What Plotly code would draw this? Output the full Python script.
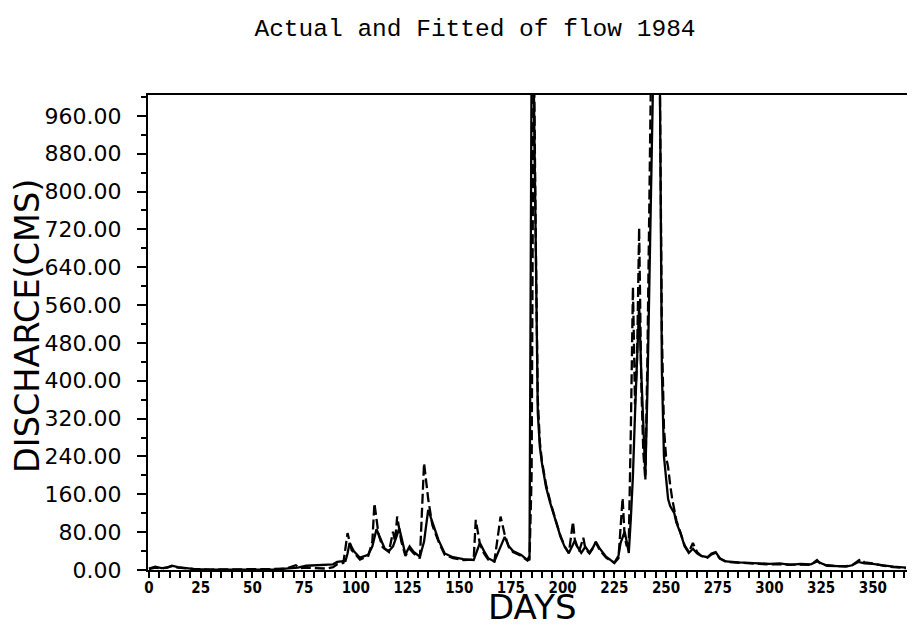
import plotly.graph_objects as go

title_text = "Actual and Fitted of flow 1984"
x_title = "DAYS"
y_title = "DISCHARCE(CMS)"

actual_days = [0, 3, 6, 9, 11, 14, 18, 22, 30, 40, 50, 60, 66, 72, 76, 80, 86, 89, 91, 95,
               96, 97, 99, 102, 106, 108, 110, 112, 114, 116, 118, 120, 121, 122, 124, 126, 128,
               131, 133, 135, 137, 140, 143, 147, 152, 157, 159, 160, 162, 164, 167, 170, 172,
               174, 176, 180, 183, 184, 185, 186, 187, 188, 189, 190, 192, 194, 197, 199, 201,
               203, 204, 206, 207, 209, 211, 213, 215, 216, 218, 221, 225, 227, 228, 230, 231,
               232, 233, 234, 235, 236, 237, 238, 239, 240, 241, 242, 243, 244, 245, 246, 247,
               248, 249, 250, 251, 252, 254, 255, 257, 259, 261, 263, 265, 267, 270, 272, 274,
               276, 279, 285, 290, 295, 300, 305, 310, 315, 320, 323, 325, 328, 333, 337, 340,
               343, 346, 350, 355, 360, 366]
actual_flow = [3, 7, 4, 5, 9, 6, 4, 2, 1, 1, 2, 1, 3, 5, 9, 10, 10, 12, 17, 19,
               35, 57, 40, 26, 32, 50, 86, 65, 45, 40, 50, 75, 88, 70, 33, 50, 38,
               28, 60, 127, 100, 63, 35, 27, 23, 21, 45, 57, 40, 25, 18, 50, 70,
               50, 40, 32, 21, 30, 1080, 1050, 613, 332, 260, 226, 175, 142, 99, 70, 49,
               36, 45, 63, 50, 36, 49, 36, 50, 60, 45, 28, 15, 30, 57, 81, 60,
               36, 110, 200, 330, 450, 560, 420, 300, 200, 380, 600, 880, 1100, 1200, 1150, 1050,
               420, 240, 190, 150, 135, 120, 100, 78, 50, 36, 45, 35, 30, 27, 35, 38,
               25, 18, 16, 15, 14, 13, 14, 11, 13, 12, 18, 14, 9, 8, 7, 10,
               17, 14, 13, 10, 7, 5]

fitted_days = [0, 3, 6, 9, 11, 14, 18, 22, 30, 40, 50, 60, 66, 70, 71, 73, 76, 80, 86, 89,
               91, 94, 96, 98, 102, 106, 108, 109, 111, 113, 116, 118, 119, 120, 122, 124, 126,
               128, 131, 133, 135, 137, 140, 143, 147, 152, 157, 158, 160, 162, 164, 167, 170,
               172, 174, 176, 180, 183, 184, 185, 186, 187, 188, 189, 190, 192, 194, 197, 199,
               201, 203, 205, 206, 208, 210, 211, 213, 215, 216, 218, 221, 225, 227, 229, 230,
               231, 232, 233, 234, 235, 236, 237, 238, 239, 240, 241, 242, 243, 244, 245, 246,
               247, 248, 249, 250, 251, 252, 253, 255, 257, 259, 261, 263, 265, 267, 270, 272,
               274, 276, 279, 285, 290, 295, 300, 305, 310, 315, 320, 323, 325, 328, 333, 337,
               340, 344, 346, 350, 355, 360, 366]
fitted_flow = [2, 5, 3, 6, 8, 5, 3, 2, 1, 1, 2, 2, 3, 8, 10, 4, 5, 4, 3, 6,
               12, 15, 78, 42, 22, 30, 60, 141, 75, 48, 38, 81, 60, 113, 60, 30, 45,
               35, 25, 226, 150, 95, 60, 32, 25, 21, 22, 106, 55, 35, 22, 18, 113,
               75, 48, 38, 30, 20, 22, 200, 1150, 700, 360, 270, 230, 180, 145, 100, 72,
               50, 35, 102, 60, 40, 68, 45, 35, 48, 58, 42, 26, 15, 25, 152, 70,
               50, 60, 300, 598, 350, 450, 723, 400, 250, 190, 450, 825, 1150, 1350, 1300, 1150,
               1050, 500, 300, 240, 218, 180, 150, 105, 80, 52, 38, 57, 38, 30, 26, 33,
               36, 24, 17, 15, 14, 13, 12, 12, 12, 11, 11, 21, 12, 10, 8, 8,
               10, 23, 16, 14, 9, 6, 4]

x_tick_vals = [0, 25, 50, 75, 100, 125, 150, 175, 200, 225, 250, 275, 300, 325, 350]
y_tick_vals = [0, 80, 160, 240, 320, 400, 480, 560, 640, 720, 800, 880, 960]
y_tick_text = [f"{v:.2f}" for v in y_tick_vals]

fig = go.Figure()
fig.add_trace(go.Scatter(x=fitted_days, y=fitted_flow, mode="lines", name="Fitted",
                         line=dict(color="black", width=2.3, dash="10px,4px")))
fig.add_trace(go.Scatter(x=actual_days, y=actual_flow, mode="lines", name="Actual",
                         line=dict(color="black", width=2.3)))

# the page body has an 8px margin, so the figure is laid out with that offset in mind
fig.update_layout(
    width=915, height=627,
    margin=dict(l=140, r=9, t=87, b=65),
    paper_bgcolor="white", plot_bgcolor="white",
    showlegend=False,
    title=dict(text=title_text, x=0.5104, xref="container", xanchor="center",
               y=1 - 19 / 627, yref="container", yanchor="middle",
               font=dict(family="Liberation Mono", size=24.5, color="black")),
)
fig.update_xaxes(
    range=[-0.48, 369.9], showgrid=False, zeroline=False,
    showline=True, linecolor="black", linewidth=2, mirror=True,
    ticks="outside", ticklen=6, tickwidth=1.5, tickcolor="black",
    tickvals=x_tick_vals, ticktext=[str(v) for v in x_tick_vals],
    tickfont=dict(family="DejaVu Sans Condensed", size=15, color="black", weight="bold"),
    ticklabelstandoff=-3,
    minor=dict(dtick=5, tick0=0, ticks="outside", ticklen=6, tickwidth=1.5, tickcolor="black"),
)
fig.update_yaxes(
    range=[0, 1004], showgrid=False, zeroline=False,
    showline=True, linecolor="black", linewidth=2,
    ticks="outside", ticklen=9, tickwidth=1.5, tickcolor="black",
    tickvals=y_tick_vals, ticktext=y_tick_text,
    tickfont=dict(family="DejaVu Sans", size=22, color="black"),
    ticklabelstandoff=11,
    minor=dict(dtick=40, tick0=0, ticks="outside", ticklen=5, tickwidth=1.5, tickcolor="black"),
)
fig.add_annotation(text=y_title, textangle=-90, xref="paper", yref="paper",
                   x=(27 - 148) / 766, y=(570 - 326) / 475,
                   xanchor="center", yanchor="middle", showarrow=False,
                   font=dict(family="DejaVu Sans", size=33.5, color="black"))
fig.add_annotation(text=x_title, xref="paper", yref="paper",
                   x=(532 - 148) / 766, y=(570 - 607) / 475,
                   xanchor="center", yanchor="middle", showarrow=False,
                   font=dict(family="DejaVu Sans", size=34, color="black"))
fig.add_shape(type="line", xref="paper", yref="paper", x0=1, x1=1, y0=0.02, y1=0.57,
              line=dict(color="#555555", width=1))

fig.write_html("out.html")
